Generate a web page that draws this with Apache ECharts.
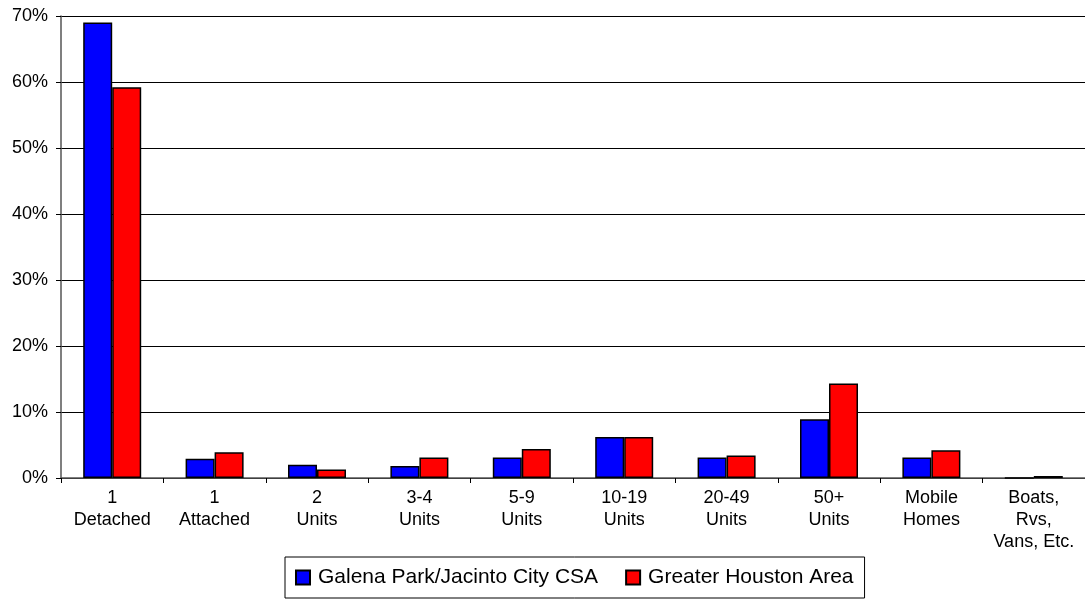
<!DOCTYPE html>
<html><head><meta charset="utf-8">
<script src="https://cdn.jsdelivr.net/npm/echarts@6/dist/echarts.min.js"></script>
<style>html,body{margin:0;padding:0;background:#fff}#c{width:1085px;height:600px}</style>
</head><body><div id="c"></div>
<script>
const categories = ["1\nDetached","1\nAttached","2\nUnits","3-4\nUnits","5-9\nUnits","10-19\nUnits","20-49\nUnits","50+\nUnits","Mobile\nHomes","Boats,\nRvs,\nVans, Etc."];
const galena = [69.0, 2.9, 2.0, 1.8, 3.1, 6.2, 3.1, 8.9, 3.1, 0];
const houston = [59.2, 3.9, 1.3, 3.1, 4.4, 6.2, 3.4, 14.3, 4.2, 0.3];
const seriesNames = ["Galena Park/Jacinto City CSA", "Greater Houston Area"];
const font = "'Liberation Sans', Arial, sans-serif";
const chart = echarts.init(document.getElementById('c'));
chart.setOption({
  animation: false,
  grid: {left: 61, right: -7, top: 16, bottom: 122},
  legend: {
    left: 285, top: 557,
    itemWidth: 14, itemHeight: 14, itemGap: 27,
    borderColor: '#000', borderWidth: 1, padding: [10, 11, 10, 10],
    icon: 'rect',
    textStyle: {fontFamily: font, fontSize: 21, color: '#000', padding: [0, 0, 0, 3]},
    data: seriesNames
  },
  xAxis: {
    type: 'category', data: categories,
    axisLine: {lineStyle: {color: '#555', width: 1.5}},
    axisTick: {show: true, alignWithLabel: false, length: 5, lineStyle: {color: '#000'}},
    axisLabel: {fontFamily: font, fontSize: 18, color: '#000', lineHeight: 22, margin: 9, interval: 0}
  },
  yAxis: {
    type: 'value', min: 0, max: 70, interval: 10,
    axisLine: {show: true, lineStyle: {color: '#555', width: 1.5}},
    axisTick: {show: true, length: 5, lineStyle: {color: '#000'}},
    axisLabel: {fontFamily: font, fontSize: 18, color: '#000', formatter: '{value}%', margin: 13},
    splitLine: {lineStyle: {color: '#000', width: 1}}
  },
  series: [
    {name: seriesNames[0], type: 'bar', data: galena, barWidth: 29, barGap: '0%',
     itemStyle: {color: '#0000ff', borderColor: '#000', borderWidth: 1.5}},
    {name: seriesNames[1], type: 'bar', data: houston, barWidth: 29,
     itemStyle: {color: '#ff0000', borderColor: '#000', borderWidth: 1.5}}
  ]
});
</script></body></html>
